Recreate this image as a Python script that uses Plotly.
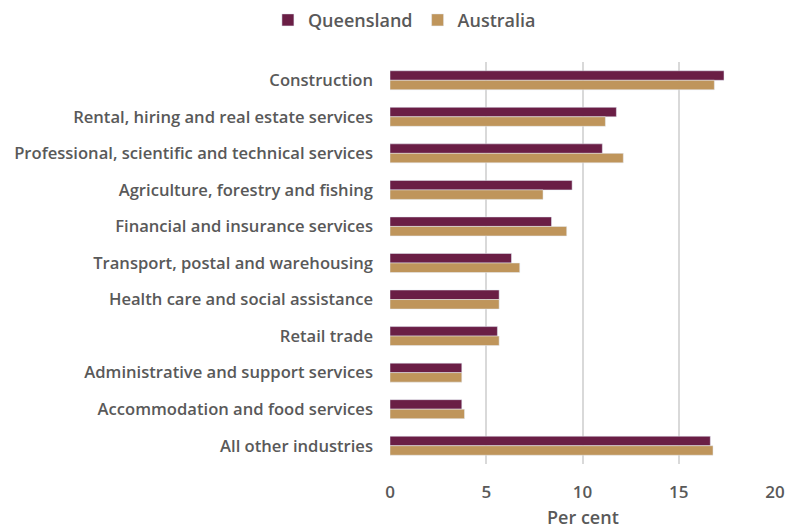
import plotly.graph_objects as go

categories = [
    "Construction",
    "Rental, hiring and real estate services",
    "Professional, scientific and technical services",
    "Agriculture, forestry and fishing",
    "Financial and insurance services",
    "Transport, postal and warehousing",
    "Health care and social assistance",
    "Retail trade",
    "Administrative and support services",
    "Accommodation and food services",
    "All other industries",
]
queensland = [17.35, 11.76, 11.03, 9.46, 8.39, 6.31, 5.67, 5.58, 3.73, 3.73, 16.64]
australia = [16.85, 11.19, 12.12, 7.95, 9.18, 6.74, 5.67, 5.67, 3.73, 3.87, 16.78]
x_ticks = [0, 5, 10, 15, 20]
x_title = "Per cent"

FONT = "Open Sans"
TXT = "#595959"

fig = go.Figure()
fig.add_trace(go.Bar(y=categories, x=queensland, name="Queensland", orientation="h",
                     marker=dict(color="#6A1E45")))
fig.add_trace(go.Bar(y=categories, x=australia, name="Australia", orientation="h",
                     marker=dict(color="#BF955B")))

fig.update_layout(
    width=785, height=523,
    paper_bgcolor="white", plot_bgcolor="white",
    barmode="group", bargap=0.48, bargroupgap=0,
    margin=dict(l=382, r=18, t=54, b=67, autoexpand=False),
    font=dict(family=FONT, color=TXT, size=15),
    legend=dict(orientation="h", x=0.505, xanchor="center", xref="container",
                y=1.104, yref="paper", yanchor="middle",
                font=dict(family=FONT, size=18, color=TXT, weight=600),
                itemwidth=30, traceorder="normal"),
    showlegend=True,
)
fig.add_annotation(text=x_title, x=0.5, xref="paper", y=-0.133, yref="paper",
                   xanchor="center", yanchor="middle", showarrow=False,
                   font=dict(family=FONT, size=18, color=TXT, weight=600))
fig.update_xaxes(range=[0, 20], tickvals=x_ticks, showgrid=True, gridcolor="#D9D9D9",
                 gridwidth=1.5, zeroline=False, showline=False, automargin=False,
                 tickfont=dict(family=FONT, size=17, color=TXT, weight=600),
                 ticks="", ticklabelstandoff=16)
fig.update_yaxes(autorange="reversed", showgrid=False, showline=False, ticks="",
                 automargin=False,
                 tickfont=dict(family=FONT, size=16.6, color=TXT, weight=600),
                 ticklabelstandoff=16)

fig.write_html("out.html")
